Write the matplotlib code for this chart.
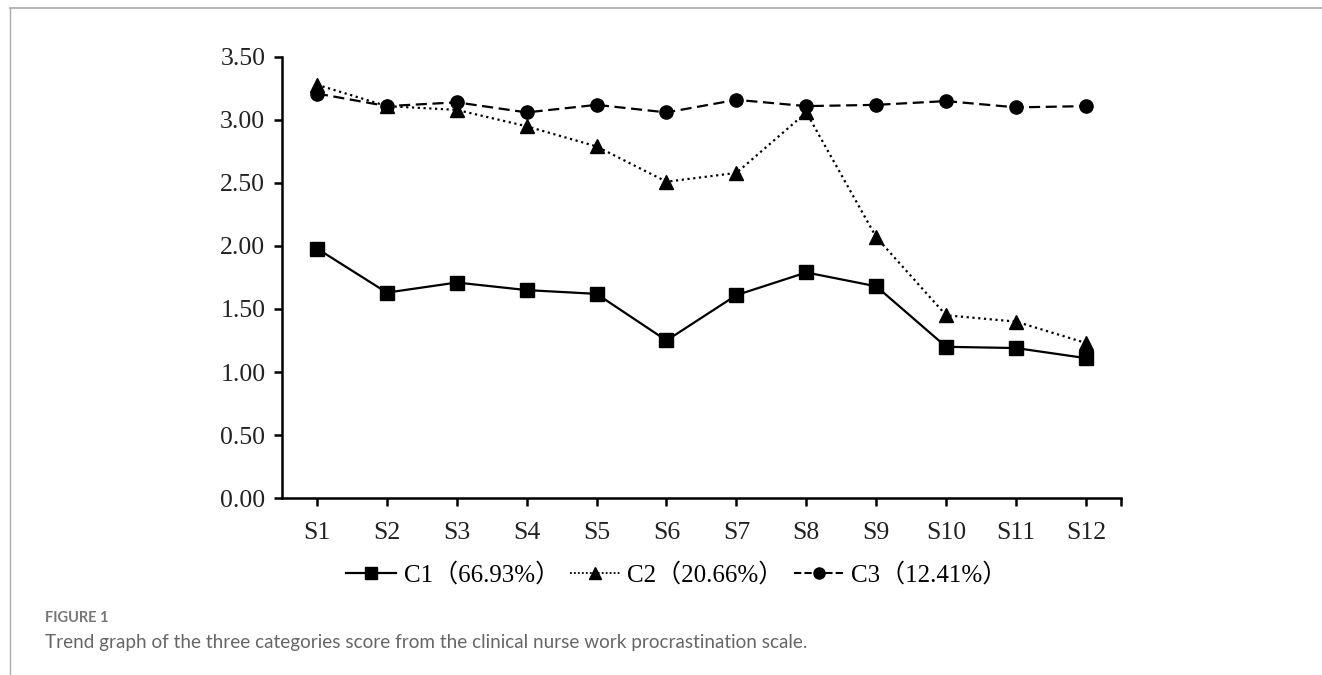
import numpy as np
import matplotlib.pyplot as plt
from matplotlib.lines import Line2D

labels = ["S1", "S2", "S3", "S4", "S5", "S6", "S7", "S8", "S9", "S10", "S11", "S12"]
c1 = [1.98, 1.63, 1.71, 1.65, 1.62, 1.25, 1.61, 1.79, 1.68, 1.20, 1.19, 1.11]
c2 = [3.28, 3.11, 3.08, 2.95, 2.79, 2.51, 2.58, 3.06, 2.07, 1.45, 1.40, 1.23]
c3 = [3.21, 3.11, 3.14, 3.06, 3.12, 3.06, 3.16, 3.11, 3.12, 3.15, 3.10, 3.11]
names = ["C1（66.93%）", "C2（20.66%）", "C3（12.41%）"]

serif = ["Liberation Serif", "Noto Sans CJK SC"]

fig = plt.figure(figsize=(13.22, 6.75), dpi=100)
ax = fig.add_axes([0.2133, 0.2622, 0.6346, 0.6534])

x = np.arange(1, len(labels) + 1)
ax.plot(x, c1, color="black", linestyle="-", linewidth=1.6, marker="s", markersize=9.5)
ax.plot(x, c2, color="black", linestyle=(0, (1, 1.6)), linewidth=1.6, marker="^", markersize=10.5)
ax.plot(x, c3, color="black", linestyle=(0, (5, 2.5)), linewidth=1.6, marker="o", markersize=9.5)

ax.set_xlim(0.5, 12.5)
ax.set_ylim(0, 3.5)
ax.set_yticks(np.arange(0, 3.51, 0.5))
ax.set_yticklabels([f"{v:.2f}" for v in np.arange(0, 3.51, 0.5)], family=serif, fontsize=18.5, color="#222222")
ax.set_xticks(list(x) + [12.5])
ax.set_xticklabels(labels + [""], family=serif, fontsize=18.5, color="#222222")
ax.tick_params(axis="both", direction="out", length=6, width=1.8)
ax.tick_params(axis="x", pad=11)
ax.tick_params(axis="y", pad=6)
for side in ["top", "right"]:
    ax.spines[side].set_visible(False)
for side in ["left", "bottom"]:
    ax.spines[side].set_linewidth(1.8)

handles = [
    Line2D([], [], color="black", linestyle="-", linewidth=1.6, marker="s", markersize=8.5),
    Line2D([], [], color="black", linestyle=(0, (1, 1.2)), linewidth=1.3, marker="^", markersize=9),
    Line2D([], [], color="black", linestyle=(0, (3.5, 1.5)), linewidth=1.5, marker="o", markersize=8),
]
fig.legend(handles, names, loc="center", bbox_to_anchor=(0.512, 0.148), ncol=3, frameon=False,
           prop={"family": serif, "size": 18}, handlelength=2.0, handletextpad=0.3, columnspacing=0.4)

# frame lines
fig.add_artist(Line2D([0.0076, 1.0], [0.988, 0.988], color="#aaaaaa", linewidth=1.2))
fig.add_artist(Line2D([0.0076, 0.0076], [0.0, 0.988], color="#aaaaaa", linewidth=1.0))

fig.text(0.034, 0.078, "FIGURE 1", family="Lato", fontsize=10.5, fontweight="bold", color="#777777")
fig.text(0.034, 0.04, "Trend graph of the three categories score from the clinical nurse work procrastination scale.",
         family="Lato", fontsize=13.6, color="#666666")

fig.savefig("out.png", dpi=100)
